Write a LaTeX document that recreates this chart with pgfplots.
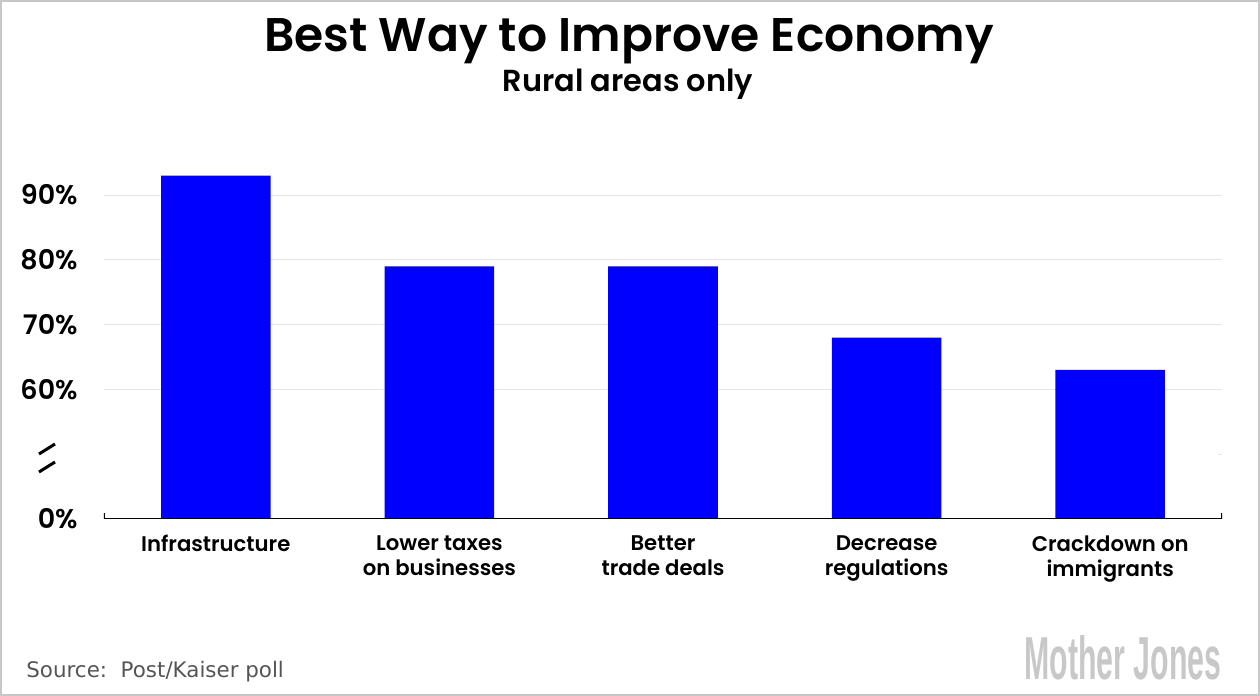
\documentclass[border=0pt]{standalone}
\usepackage{pgfplots}
\pgfplotsset{compat=1.18}
\usepackage{fontspec}
\setmainfont{Poppins}[BoldFont={Poppins SemiBold}]
\newfontfamily\srcfont{DejaVu Sans}
\newfontfamily\logofont{Liberation Sans}

\definecolor{barblue}{HTML}{0000FF}
\definecolor{gridgray}{HTML}{E6E6E6}
\definecolor{framegray}{HTML}{C8C8C8}
\definecolor{srcgray}{HTML}{555555}
\definecolor{logogray}{HTML}{C8C8C8}

\begin{document}
\begin{tikzpicture}[x=0.5pt,y=0.5pt]
\path[use as bounding box] (0,0) rectangle (1260,696);
\draw[framegray, line width=1pt] (1,1) rectangle (1259,695);

\node[anchor=base] at (629,644) {\fontsize{23.6}{28}\selectfont\bfseries Best Way to Improve Economy};
\node[anchor=base] at (628,604) {\fontsize{15.2}{18}\selectfont\bfseries Rural areas only};

\begin{axis}[
  at={(52pt,88.5pt)}, anchor=south west,
  scale only axis, width=559pt, height=181.4pt,
  xmin=-0.5, xmax=4.5, ymin=0, ymax=56,
  axis line style={draw=none},
  major tick length=0pt,
  ytick={0,20,30,40,50},
  yticklabels={0\%,60\%,70\%,80\%,90\%},
  ymajorgrids, grid style={gridgray, line width=0.5pt},
  xtick={0,1,2,3,4},
  xticklabels={Infrastructure,{Lower taxes\\on businesses},{Better\\trade deals},{Decrease\\regulations},{Crackdown on\\immigrants}},
  xticklabel style={align=center, anchor=north, inner sep=0pt, yshift=-8pt,
    font=\fontsize{10.6}{12.5}\selectfont\bfseries},
  yticklabel style={anchor=east, inner sep=0pt, xshift=-13pt,
    font=\fontsize{13.5}{16}\selectfont\bfseries},
  /pgf/number format/assume math mode=true,
]
\addplot[ybar, bar width=0.49, fill=barblue, draw=none] coordinates {
  (0,53) (1,39) (2,39) (3,28) (4,23)
};
\draw[gridgray, line width=0.5pt] (axis cs:4.48,10) -- (axis cs:4.5,10);
\draw[black, line width=0.8pt] (axis cs:-0.5,0.9) |- (axis cs:4.5,0) -- (axis cs:4.5,0.9);
\end{axis}

% axis break marks
\draw[black, line width=1.5pt] (39,242) -- (55,252);
\draw[black, line width=1.5pt] (39,224) -- (55,234);

\node[anchor=base west, inner sep=0pt, text=srcgray] at (26,18) {\srcfont\fontsize{10.7}{12}\selectfont Source:\ \ Post/Kaiser poll};
\node[anchor=south east, inner sep=0pt, text=logogray] at (1222,16) {\resizebox{98.5pt}{22pt}{\logofont\bfseries Mother Jones}};
\end{tikzpicture}
\end{document}
